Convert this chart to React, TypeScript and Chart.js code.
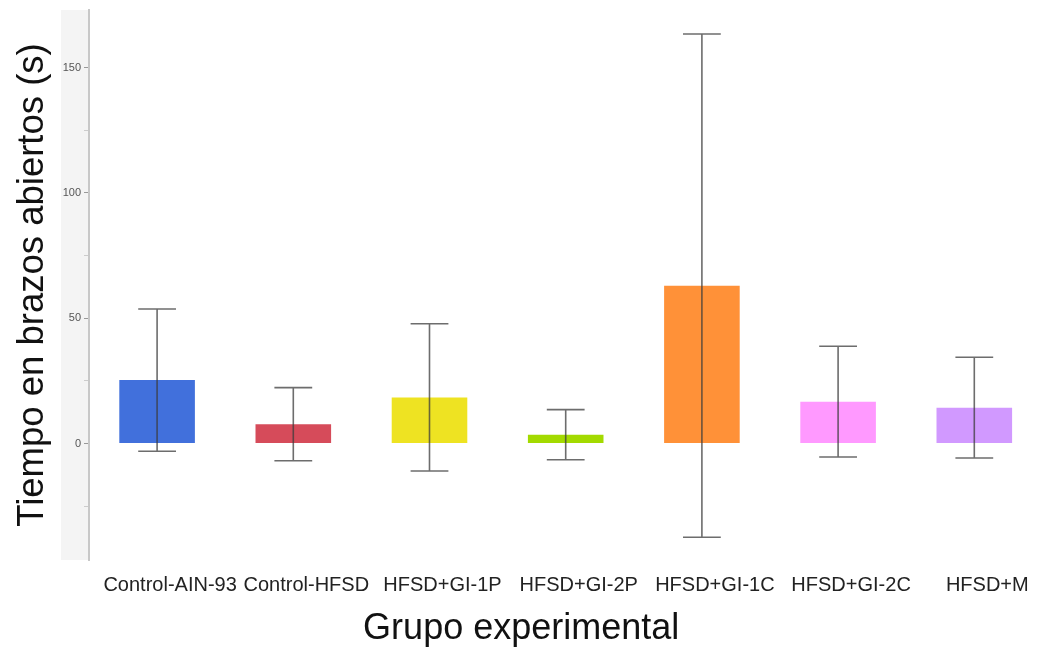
import React, { useEffect, useRef } from "react";
import { Chart, registerables } from "chart.js";

Chart.register(...registerables);

const categories = [
  "Control-AIN-93",
  "Control-HFSD",
  "HFSD+GI-1P",
  "HFSD+GI-2P",
  "HFSD+GI-1C",
  "HFSD+GI-2C",
  "HFSD+M",
];
const means = [25.3, 7.7, 18.4, 3.5, 63.0, 16.7, 14.3];
const errors = [28.4, 14.6, 29.4, 10.0, 100.4, 22.1, 20.1];
const barColors = ["#4170DC", "#D64B5A", "#EEE322", "#A3DA00", "#FF9138", "#FF99FF", "#D199FF"];
const yTickValues = [-25, 0, 25, 50, 75, 100, 125, 150];
const yLabelValues = [0, 50, 100, 150];

const FONT = "'Liberation Sans', Arial, sans-serif";

const bandPlugin = {
  id: "axisBand",
  beforeDraw(chart: any) {
    const { ctx, chartArea } = chart;
    ctx.save();
    ctx.fillStyle = "#f4f4f4";
    ctx.fillRect(chartArea.left - 28, chartArea.top, 28, chartArea.bottom - chartArea.top);
    ctx.restore();
  },
};

const errorBarPlugin = {
  id: "errorBars",
  afterDatasetsDraw(chart: any) {
    const { ctx } = chart;
    const y = chart.scales.y;
    const meta = chart.getDatasetMeta(0);
    ctx.save();
    ctx.strokeStyle = "rgba(60,60,60,0.75)";
    ctx.lineWidth = 1.6;
    meta.data.forEach((bar: any, i: number) => {
      const x = bar.x;
      const hi = y.getPixelForValue(means[i] + errors[i]);
      const lo = y.getPixelForValue(means[i] - errors[i]);
      const cap = bar.width / 4;
      ctx.beginPath();
      ctx.moveTo(x, hi);
      ctx.lineTo(x, lo);
      ctx.moveTo(x - cap, hi);
      ctx.lineTo(x + cap, hi);
      ctx.moveTo(x - cap, lo);
      ctx.lineTo(x + cap, lo);
      ctx.stroke();
    });
    ctx.restore();
  },
};

export default function App() {
  const ref = useRef<HTMLCanvasElement>(null);
  useEffect(() => {
    if (!ref.current) return;
    const chart = new Chart(ref.current, {
      type: "bar",
      data: {
        labels: categories,
        datasets: [
          {
            data: means,
            backgroundColor: barColors,
            borderWidth: 0,
            barPercentage: 0.555,
            categoryPercentage: 1,
          },
        ],
      },
      plugins: [bandPlugin, errorBarPlugin],
      options: {
        responsive: false,
        animation: false,
        devicePixelRatio: 1,
        layout: { padding: { left: 0, right: 3.6, top: 10, bottom: 0 } },
        plugins: {
          legend: { display: false },
          tooltip: { enabled: false },
          title: {
            display: true,
            position: "bottom",
            text: "Grupo experimental",
            color: "#111",
            font: { family: FONT, size: 36, weight: "normal" },
            padding: { top: 0, bottom: 0 },
          },
        },
        scales: {
          x: {
            grid: { display: false, drawTicks: false },
            border: { display: false },
            ticks: {
              color: "#222",
              font: { family: FONT, size: 20 },
              padding: 13,
              labelOffset: 13,
              maxRotation: 0,
              autoSkip: false,
            },
            afterFit(scale: any) {
              scale.height = 47.8;
            },
          },
          y: {
            min: -46.5,
            max: 173,
            afterBuildTicks(scale: any) {
              scale.ticks = yTickValues.map((v) => ({ value: v }));
            },
            afterFit(scale: any) {
              scale.width = 89;
            },
            grid: {
              drawOnChartArea: false,
              tickLength: 5,
              tickColor: (c: any) => (yLabelValues.includes(c.tick?.value) ? "#999" : "#ccc"),
            },
            border: { display: true, color: "#c8c8c8", width: 2 },
            ticks: {
              color: "#555",
              font: { family: FONT, size: 11 },
              padding: 3,
              callback: (v: any) => (yLabelValues.includes(Number(v)) ? String(v) : ""),
            },
            title: {
              display: true,
              text: "Tiempo en brazos abiertos (s)",
              color: "#111",
              font: { family: FONT, size: 36.5, weight: "normal" },
              padding: { top: 11, bottom: 0 },
            },
          },
        },
      } as any,
    });
    return () => chart.destroy();
  }, []);
  return (
    <div style={{ position: "fixed", left: 0, top: 0, width: 1038, height: 651, overflow: "hidden", background: "#fff" }}>
      <canvas ref={ref} width={1046} height={651} style={{ display: "block" }} />
    </div>
  );
}
